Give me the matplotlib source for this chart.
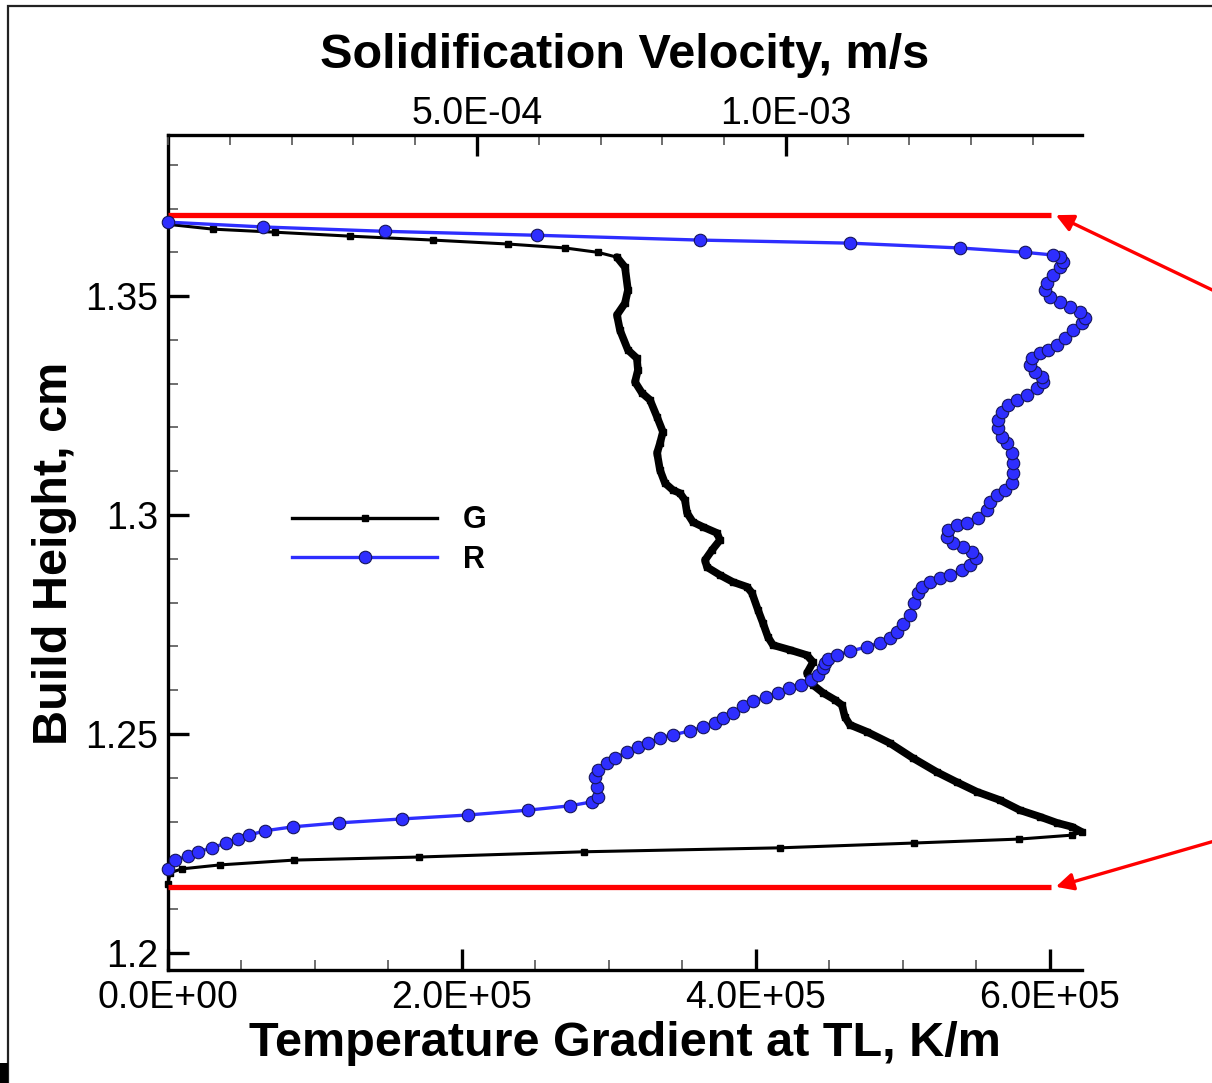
import numpy as np
import matplotlib
matplotlib.use("Agg")
import matplotlib.pyplot as plt
from matplotlib.lines import Line2D
from matplotlib.patches import Rectangle
from matplotlib.ticker import FuncFormatter, MultipleLocator, FixedLocator

plt.rcParams['font.family'] = ['Liberation Sans', 'DejaVu Sans']

# ---------------- data ----------------
# Temperature gradient G (units of 1e5 K/m) vs build height (cm)
G_1e5 = [0.000, 0.014, 0.095, 0.354, 0.857, 1.707, 2.830, 4.163, 5.075, 5.789,
         6.150, 6.218, 6.150, 6.048, 5.932, 5.796, 5.660, 5.503, 5.367, 5.231,
         5.068, 4.912, 4.755, 4.639, 4.605, 4.585, 4.537, 4.456, 4.388, 4.347,
         4.388, 4.347, 4.231, 4.116, 4.082, 4.048, 4.014, 3.973, 3.939, 3.844,
         3.755, 3.667, 3.653, 3.701, 3.755, 3.735, 3.639, 3.571, 3.531, 3.517,
         3.483, 3.435, 3.381, 3.347, 3.327, 3.347, 3.367, 3.327, 3.279, 3.224,
         3.177, 3.197, 3.190, 3.129, 3.075, 3.054, 3.109, 3.129, 3.109, 3.054,
         2.925, 2.701, 2.313, 1.803, 1.238, 0.728, 0.306, 0.000]
H_G = [1.2158, 1.2183, 1.2192, 1.2201, 1.2212, 1.2219, 1.2231, 1.2240, 1.2251, 1.2260,
       1.2269, 1.2276, 1.2288, 1.2297, 1.2311, 1.2326, 1.2349, 1.2368, 1.2390, 1.2413,
       1.2445, 1.2479, 1.2505, 1.2521, 1.2539, 1.2566, 1.2578, 1.2594, 1.2612, 1.2639,
       1.2664, 1.2680, 1.2692, 1.2703, 1.2721, 1.2753, 1.2783, 1.2822, 1.2836, 1.2847,
       1.2863, 1.2881, 1.2897, 1.2920, 1.2943, 1.2959, 1.2973, 1.2984, 1.3005, 1.3034,
       1.3050, 1.3057, 1.3073, 1.3103, 1.3142, 1.3164, 1.3190, 1.3224, 1.3263, 1.3279,
       1.3304, 1.3331, 1.3358, 1.3377, 1.3422, 1.3457, 1.3484, 1.3514, 1.3566, 1.3589,
       1.3600, 1.3610, 1.3619, 1.3628, 1.3637, 1.3646, 1.3653, 1.3664]

# Solidification velocity R (units of 1e-4 m/s) vs build height (cm)
R_1e4 = [0.000, 0.113, 0.324, 0.485, 0.712, 0.939, 1.133, 1.311, 1.570, 2.023,
         2.767, 3.786, 4.854, 5.825, 6.505, 6.861, 6.958, 6.942, 6.909, 6.958,
         7.104, 7.233, 7.427, 7.605, 7.767, 7.961, 8.172, 8.447, 8.657, 8.851,
         8.981, 9.142, 9.304, 9.466, 9.676, 9.871, 10.049, 10.243, 10.405, 10.518,
         10.599, 10.631, 10.680, 10.825, 11.036, 11.311, 11.521, 11.683, 11.796, 11.893,
         12.006, 12.080, 12.136, 12.201, 12.330, 12.492, 12.654, 12.848, 12.977, 13.074,
         13.010, 12.864, 12.702, 12.605, 12.621, 12.767, 12.929, 13.107, 13.252, 13.301,
         13.414, 13.544, 13.657, 13.673, 13.673, 13.657, 13.576, 13.495, 13.430, 13.430,
         13.495, 13.592, 13.738, 13.900, 14.061, 14.159, 14.142, 14.029, 13.948, 13.981,
         14.110, 14.239, 14.385, 14.515, 14.644, 14.790, 14.838, 14.757, 14.595, 14.434,
         14.272, 14.191, 14.223, 14.320, 14.434, 14.482, 14.434, 14.320, 13.867, 12.816,
         11.036, 8.608, 5.971, 3.511, 1.537, 0.000]
H_R = [1.2192, 1.2212, 1.2221, 1.2231, 1.2240, 1.2251, 1.2260, 1.2269, 1.2279, 1.2288,
       1.2297, 1.2306, 1.2315, 1.2326, 1.2336, 1.2345, 1.2356, 1.2379, 1.2402, 1.2418,
       1.2434, 1.2445, 1.2459, 1.2470, 1.2479, 1.2491, 1.2498, 1.2507, 1.2516, 1.2525,
       1.2537, 1.2548, 1.2564, 1.2575, 1.2584, 1.2594, 1.2605, 1.2612, 1.2623, 1.2635,
       1.2651, 1.2662, 1.2671, 1.2680, 1.2689, 1.2699, 1.2708, 1.2719, 1.2733, 1.2751,
       1.2772, 1.2800, 1.2822, 1.2836, 1.2847, 1.2856, 1.2863, 1.2874, 1.2886, 1.2902,
       1.2916, 1.2927, 1.2936, 1.2950, 1.2966, 1.2977, 1.2982, 1.2993, 1.3011, 1.3030,
       1.3046, 1.3057, 1.3073, 1.3096, 1.3119, 1.3142, 1.3164, 1.3178, 1.3199, 1.3217,
       1.3235, 1.3251, 1.3263, 1.3274, 1.3290, 1.3304, 1.3315, 1.3326, 1.3342, 1.3358,
       1.3370, 1.3377, 1.3388, 1.3404, 1.3422, 1.3438, 1.3450, 1.3463, 1.3475, 1.3486,
       1.3498, 1.3514, 1.3530, 1.3548, 1.3566, 1.3578, 1.3589, 1.3594, 1.3600, 1.3610,
       1.3621, 1.3628, 1.3639, 1.3648, 1.3658, 1.3669]

# Red marker lines (build-height window) and their extent in G
H_WINDOW = [1.3685, 1.2151]
G_WINDOW_END = 6.01e5
ARROW_TIP_G = 6.04e5
ARROW_START_FIG_Y = [0.727, 0.226]

G_XLIM = (0, 6.218e5)
R_XLIM = (0, 1.4792e-3)
H_YLIM = (1.1961, 1.3868)

G = np.array(G_1e5) * 1e5
R = np.array(R_1e4) * 1e-4

# ---------------- figure ----------------
W, H = 1212, 1083
fig = plt.figure(figsize=(W / 100, H / 100), dpi=100)
ax = fig.add_axes([168 / W, 1 - 970 / H, (1082 - 168) / W, (970 - 135) / H])
ax2 = ax.twiny()

ax.set_xlim(*G_XLIM)
ax.set_ylim(*H_YLIM)
ax2.set_xlim(*R_XLIM)

# G curve
ax.plot(G, H_G, color='black', lw=2.2, marker='s', ms=4.5, zorder=3, clip_on=False)
i0 = int(np.argmax(G))
i1 = len(G) - 8
ax.plot(G[i0:i1], H_G[i0:i1], color='black', lw=5.5, zorder=3,
        solid_joinstyle='round', solid_capstyle='round', clip_on=False)

# R curve
blue = '#2e2eff'
ax2.plot(R, H_R, color=blue, lw=2.4, marker='o', ms=9, mfc=blue,
         mec='#15155a', mew=0.8, zorder=4, clip_on=False)

# red window lines
for h in H_WINDOW:
    ax.plot([0, G_WINDOW_END], [h, h], color='red', lw=3.8, zorder=5,
            clip_on=False, solid_capstyle='butt')
for h, fy in zip(H_WINDOW, ARROW_START_FIG_Y):
    ax.annotate('', xy=(ARROW_TIP_G, h), xycoords='data',
                xytext=(1.01, fy), textcoords='figure fraction',
                arrowprops=dict(arrowstyle='-|>', color='red', lw=2.4,
                                mutation_scale=26, shrinkA=0, shrinkB=0),
                annotation_clip=False, zorder=6)

# spines
for s in ['right', 'top']:
    ax.spines[s].set_visible(False)
for s in ['right', 'left', 'bottom']:
    ax2.spines[s].set_visible(False)
for s in ['left', 'bottom']:
    ax.spines[s].set_linewidth(2.4)
ax2.spines['top'].set_linewidth(2.4)

# ticks
ax.xaxis.set_major_locator(MultipleLocator(2e5))
ax.xaxis.set_minor_locator(MultipleLocator(5e4))
ax.yaxis.set_major_locator(FixedLocator([1.2, 1.25, 1.3, 1.35]))
ax.yaxis.set_minor_locator(MultipleLocator(0.01))
ax2.xaxis.set_major_locator(FixedLocator([5e-4, 1e-3]))
ax2.xaxis.set_minor_locator(MultipleLocator(1e-4))

sci = FuncFormatter(lambda v, p: f"{v:.1E}")
ax.xaxis.set_major_formatter(sci)
ax2.xaxis.set_major_formatter(sci)
ax.yaxis.set_major_formatter(FuncFormatter(lambda v, p: f"{v:g}"))

tick_fs = 27
ax.tick_params(axis='x', which='both', direction='in', bottom=True, top=False,
               labelsize=tick_fs, pad=7)
ax.tick_params(axis='y', which='both', direction='in', left=True, right=False,
               labelsize=tick_fs, pad=7)
ax2.tick_params(axis='x', which='both', direction='in', top=True, bottom=False,
                labelsize=tick_fs, pad=2)
for a in (ax, ax2):
    a.tick_params(which='major', length=15, width=2.4)
    a.tick_params(which='minor', length=7.5, width=1.2, color='#555555')

# labels
fig.text(625 / W, 1 - 56 / H, 'Solidification Velocity, m/s', ha='center', va='center',
         fontsize=35, fontweight='bold')
fig.text(625 / W, 1 - 1043 / H, 'Temperature Gradient at TL, K/m', ha='center',
         va='center', fontsize=35, fontweight='bold')
fig.text(55 / W, 1 - 553 / H, 'Build Height, cm', ha='center', va='center',
         rotation=90, fontsize=35, fontweight='bold')

# legend
handles = [Line2D([], [], color='black', lw=2.4, marker='s', ms=5),
           Line2D([], [], color=blue, lw=2.4, marker='o', ms=9, mfc=blue,
                  mec='#15155a', mew=0.8)]
fig.legend(handles, ['G', 'R'], loc='center left',
           bbox_to_anchor=(292 / W, 1 - 540 / H), bbox_transform=fig.transFigure,
           frameon=False, borderpad=0, borderaxespad=0, handlelength=4.75,
           handletextpad=0.85, labelspacing=0.3, numpoints=1,
           prop={'weight': 'bold', 'size': 22})

# outer frame
fig.add_artist(Rectangle((8 / W, -0.02), 1.0, 1 - 6 / H + 0.02, fill=False,
                         edgecolor='#222222', lw=1.6, transform=fig.transFigure))
fig.add_artist(Rectangle((0, 0), 8 / W, 20 / H, facecolor='black', edgecolor='none',
                         transform=fig.transFigure))

fig.savefig('out.png', dpi=100)
